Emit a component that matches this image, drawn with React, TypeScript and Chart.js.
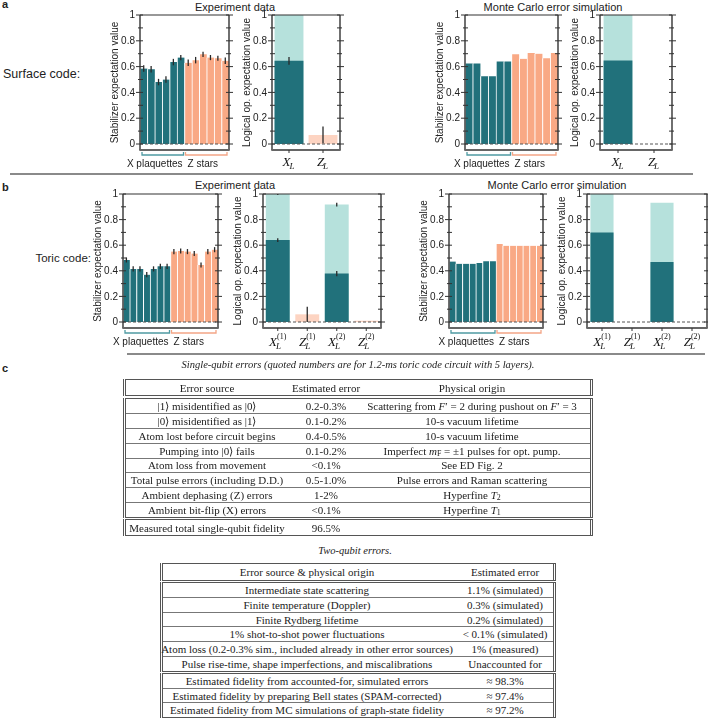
import React, { useEffect, useRef } from 'react';
import { Chart, registerables } from 'chart.js';
Chart.register(...registerables);

// ---------------- data ----------------
const surfaceXPlaquettes = ['X1', 'X2', 'X3', 'X4', 'X5', 'X6'];
const surfaceZStars = ['Z1', 'Z2', 'Z3', 'Z4', 'Z5', 'Z6'];
const toricXPlaquettes = ['X1', 'X2', 'X3', 'X4', 'X5', 'X6', 'X7'];
const toricZStars = ['Z1', 'Z2', 'Z3', 'Z4', 'Z5', 'Z6', 'Z7'];

const surfaceExpX = [0.585, 0.58, 0.48, 0.5, 0.635, 0.67];
const surfaceExpXErr = [0.025, 0.025, 0.025, 0.025, 0.025, 0.02];
const surfaceExpZ = [0.63, 0.65, 0.695, 0.67, 0.665, 0.645];
const surfaceExpZErr = [0.025, 0.025, 0.02, 0.02, 0.02, 0.025];
const surfaceMcX = [0.625, 0.625, 0.525, 0.525, 0.64, 0.64];
const surfaceMcZ = [0.695, 0.66, 0.705, 0.7, 0.665, 0.705];

const toricExpX = [0.485, 0.415, 0.415, 0.37, 0.415, 0.435, 0.435];
const toricExpXErr = [0.02, 0.02, 0.02, 0.02, 0.02, 0.02, 0.02];
const toricExpZ = [0.55, 0.555, 0.55, 0.535, 0.445, 0.55, 0.565];
const toricExpZErr = [0.02, 0.02, 0.02, 0.02, 0.02, 0.02, 0.02];
const toricMcX = [0.473, 0.455, 0.455, 0.455, 0.46, 0.475, 0.475];
const toricMcZ = [0.61, 0.595, 0.595, 0.595, 0.595, 0.595, 0.595];

const surfaceLogicalOps = ['X', 'Z'];
const surfaceLogicalIdx = ['', ''];
const toricLogicalOps = ['X', 'Z', 'X', 'Z'];
const toricLogicalIdx = ['(1)', '(1)', '(2)', '(2)'];

const surfaceExpLogicalRaw = [0.645, 0.0];
const surfaceExpLogicalRawErr = [0.03, 0];
const surfaceExpLogicalCorrected = [1.0, 0.07];
const surfaceExpLogicalCorrectedErr = [0, 0.065];
const surfaceMcLogicalRaw = [0.648, 0];
const surfaceMcLogicalCorrected = [1.0, 0];

const toricExpLogicalRaw = [0.64, 0.0, 0.378, 0.0];
const toricExpLogicalRawErr = [0.015, 0, 0.02, 0];
const toricExpLogicalCorrected = [1.0, 0.06, 0.917, 0.01];
const toricExpLogicalCorrectedErr = [0.008, 0.06, 0.015, 0];
const toricMcLogicalRaw = [0.7, 0, 0.468, 0];
const toricMcLogicalCorrected = [1.0, 0, 0.932, 0];

const yTickValues = [0, 0.2, 0.4, 0.6, 0.8, 1];
const yTickLabels = ['0', '0.2', '0.4', '0.6', '0.8', '1'];

const table1Header = ['Error source', 'Estimated error', 'Physical origin'];
const table2Header = ['Error source & physical origin', 'Estimated error'];

// ---------------- style ----------------
const TEAL = '#21717b';
const TEAL_LIGHT = '#b6e1dc';
const ORANGE = '#f9a985';
const ORANGE_LIGHT = '#fdd4c2';
const TEAL_LINE = '#4f9aa2';
const ORANGE_LINE = '#f3a586';
const SANS = '"Liberation Sans", Arial, Helvetica, sans-serif';
const SERIF = '"Liberation Serif", "Times New Roman", serif';

const PADL = 50, PADT = 10, PADR = 10, PADB = 26;

type StabSpec = {
  kind: 'stab'; L: number; R: number; T: number; Z: number;
  xLabels: string[]; zLabels: string[];
  x: number[]; z: number[]; xErr?: number[]; zErr?: number[];
};
type LogSpec = {
  kind: 'log'; L: number; R: number; T: number; Z: number;
  ops: string[]; idx: string[]; raw: number[]; rawErr?: number[];
  corr: number[]; corrErr?: number[]; barPct: number;
};
type Spec = StabSpec | LogSpec;

function line(ctx: CanvasRenderingContext2D, x1: number, y1: number, x2: number, y2: number) {
  ctx.beginPath();
  ctx.moveTo(x1, y1);
  ctx.lineTo(x2, y2);
  ctx.stroke();
}

function drawMath(ctx: CanvasRenderingContext2D, cx: number, y: number, base: string, sub: string, sup: string) {
  const fb = `italic 13px ${SERIF}`;
  const fs = `italic 9px ${SERIF}`;
  const fp = `8px ${SERIF}`;
  ctx.font = fb; const wb = ctx.measureText(base).width;
  ctx.font = fs; const ws = ctx.measureText(sub).width;
  ctx.font = fp; const wp = sup ? ctx.measureText(sup).width : 0;
  const total = wb + Math.max(ws, wp);
  const x0 = cx - total / 2;
  ctx.textAlign = 'left';
  ctx.textBaseline = 'alphabetic';
  ctx.fillStyle = '#111';
  ctx.font = fb; ctx.fillText(base, x0, y);
  ctx.font = fs; ctx.fillText(sub, x0 + wb - 1, y + 3);
  if (sup) { ctx.font = fp; ctx.fillText(sup, x0 + wb, y - 7); }
}

function makePlugin(spec: Spec) {
  return {
    id: 'decor',
    afterDatasetsDraw(chart: any) {
      const ctx: CanvasRenderingContext2D = chart.ctx;
      const ca = chart.chartArea;
      const ys = chart.scales.y;
      const L = ca.left, R = ca.right, T = ca.top, B = ca.bottom;
      const y0 = ys.getPixelForValue(0);
      ctx.save();
      // zero line
      ctx.setLineDash([3, 2]);
      ctx.strokeStyle = '#555';
      ctx.lineWidth = 1;
      line(ctx, L, y0, R, y0);
      ctx.setLineDash([]);
      // error bars
      const errSets: { ds: number; errs: number[] }[] = [];
      if (spec.kind === 'stab') {
        if (spec.xErr && spec.zErr) errSets.push({ ds: 0, errs: [...spec.xErr, ...spec.zErr] });
      } else {
        if (spec.corrErr) errSets.push({ ds: 0, errs: spec.corrErr });
        if (spec.rawErr) errSets.push({ ds: 1, errs: spec.rawErr });
      }
      ctx.strokeStyle = '#2a2a2a';
      ctx.lineWidth = 1.3;
      errSets.forEach(({ ds, errs }) => {
        const meta = chart.getDatasetMeta(ds);
        const data = chart.data.datasets[ds].data;
        meta.data.forEach((el: any, j: number) => {
          const e = errs[j];
          if (!e) return;
          const v = data[j];
          line(ctx, el.x, ys.getPixelForValue(v - e), el.x, ys.getPixelForValue(Math.min(v + e, 1.0)));
        });
      });
      // frame
      ctx.strokeStyle = '#333';
      ctx.lineWidth = 1.4;
      line(ctx, L, T, L, B);
      line(ctx, R, T, R, B);
      ctx.lineWidth = 1.2;
      line(ctx, L, T, R, T);
      ctx.strokeStyle = '#666';
      ctx.lineWidth = 2;
      line(ctx, L - 0.7, B, R + 0.7, B);
      // ticks
      ctx.strokeStyle = '#333';
      ctx.lineWidth = 1;
      for (let i = 0; i <= 10; i++) {
        const y = ys.getPixelForValue(i / 10);
        const major = i % 2 === 0;
        line(ctx, L - (major ? 4 : 2), y, L + 3, y);
        line(ctx, R - 3, y, R + (major ? 4 : 2), y);
      }
      // tick labels
      ctx.fillStyle = '#222';
      ctx.font = `10px ${SANS}`;
      ctx.textAlign = 'right';
      ctx.textBaseline = 'middle';
      yTickValues.forEach((v, i) => {
        ctx.fillText(yTickLabels[i], L - 5, ys.getPixelForValue(v) + 0.5);
      });
      // y title
      ctx.save();
      ctx.translate(L - 25, (T + B) / 2);
      ctx.rotate(-Math.PI / 2);
      ctx.textAlign = 'center';
      ctx.textBaseline = 'middle';
      ctx.font = `10px ${SANS}`;
      ctx.fillText(spec.kind === 'stab' ? 'Stabilizer expectation value' : 'Logical op. expectation value', 0, 0);
      ctx.restore();

      const meta0 = chart.getDatasetMeta(0);
      if (spec.kind === 'stab') {
        const els = meta0.data;
        const nX = spec.x.length;
        const w = els[0].width;
        const first = els[0].x - w / 2;
        const last = els[els.length - 1].x + w / 2;
        const mid = (els[nX - 1].x + els[nX].x) / 2;
        const by = B + 5;
        ctx.lineWidth = 1.3;
        ctx.strokeStyle = TEAL_LINE;
        ctx.beginPath();
        ctx.moveTo(first + 2, by - 3); ctx.lineTo(first + 2, by); ctx.lineTo(mid - 1, by); ctx.lineTo(mid - 1, by - 3);
        ctx.stroke();
        ctx.strokeStyle = ORANGE_LINE;
        ctx.beginPath();
        ctx.moveTo(mid + 1, by - 3); ctx.lineTo(mid + 1, by); ctx.lineTo(last - 2, by); ctx.lineTo(last - 2, by - 3);
        ctx.stroke();
        ctx.fillStyle = '#222';
        ctx.font = `10px ${SANS}`;
        ctx.textBaseline = 'middle';
        ctx.textAlign = 'right';
        ctx.fillText('X plaquettes', mid - 2, B + 14);
        ctx.textAlign = 'left';
        ctx.fillText('Z stars', mid + 3, B + 14);
      } else {
        const els = meta0.data;
        ctx.strokeStyle = '#333';
        ctx.lineWidth = 1;
        els.forEach((el: any, j: number) => {
          line(ctx, el.x, B, el.x, B + 3);
          drawMath(ctx, el.x, B + (spec.idx[j] ? 18 : 16), spec.ops[j], 'L', spec.idx[j]);
        });
      }
      ctx.restore();
    },
  };
}

function buildConfig(spec: Spec): any {
  const ymin = -6 / (spec.Z - spec.T);
  const scales = {
    x: { type: 'category', display: false, offset: true },
    y: { type: 'linear', display: false, min: ymin, max: 1 },
  };
  let data: any;
  if (spec.kind === 'stab') {
    data = {
      labels: [...spec.xLabels, ...spec.zLabels],
      datasets: [{
        data: [...spec.x, ...spec.z],
        backgroundColor: [...spec.x.map(() => TEAL), ...spec.z.map(() => ORANGE)],
        borderColor: '#ffffff',
        borderWidth: { left: 1, right: 0, top: 0, bottom: 0 },
        borderSkipped: false,
        barPercentage: 1,
        categoryPercentage: 1,
      }],
    };
  } else {
    const labels = spec.ops.map((o, i) => `${o}_L${spec.idx[i]}`);
    data = {
      labels,
      datasets: [
        {
          data: spec.corr,
          backgroundColor: spec.ops.map((o) => (o === 'X' ? TEAL_LIGHT : ORANGE_LIGHT)),
          borderWidth: 0,
          barPercentage: spec.barPct,
          categoryPercentage: 1,
          grouped: false,
          order: 2,
        },
        {
          data: spec.raw,
          backgroundColor: spec.ops.map((o) => (o === 'X' ? TEAL : ORANGE)),
          borderWidth: 0,
          barPercentage: spec.barPct,
          categoryPercentage: 1,
          grouped: false,
          order: 1,
        },
      ],
    };
  }
  return {
    type: 'bar',
    data,
    options: {
      responsive: false,
      animation: false,
      devicePixelRatio: 1,
      layout: { padding: { left: PADL, top: PADT, right: PADR, bottom: PADB } },
      plugins: { legend: { display: false }, tooltip: { enabled: false }, title: { display: false } },
      scales,
    },
    plugins: [makePlugin(spec)],
  };
}

function Plot({ spec }: { spec: Spec }) {
  const ref = useRef<HTMLCanvasElement>(null);
  useEffect(() => {
    const chart = new Chart(ref.current as HTMLCanvasElement, buildConfig(spec));
    return () => chart.destroy();
  }, []);
  const B = spec.Z + 6;
  const left = spec.L - PADL;
  const top = spec.T - PADT;
  const w = spec.R - spec.L + PADL + PADR;
  const h = B - spec.T + PADT + PADB;
  return (
    <div style={{ position: 'absolute', left, top, width: w, height: h }}>
      <canvas ref={ref} width={w} height={h} style={{ display: 'block', width: w, height: h }} />
    </div>
  );
}

const specs: Spec[] = [
  { kind: 'stab', L: 140, R: 229, T: 15, Z: 144, xLabels: surfaceXPlaquettes, zLabels: surfaceZStars, x: surfaceExpX, z: surfaceExpZ, xErr: surfaceExpXErr, zErr: surfaceExpZErr },
  { kind: 'log', L: 272, R: 340, T: 15, Z: 144, ops: surfaceLogicalOps, idx: surfaceLogicalIdx, raw: surfaceExpLogicalRaw, rawErr: surfaceExpLogicalRawErr, corr: surfaceExpLogicalCorrected, corrErr: surfaceExpLogicalCorrectedErr, barPct: 0.85 },
  { kind: 'stab', L: 465, R: 558, T: 15, Z: 144, xLabels: surfaceXPlaquettes, zLabels: surfaceZStars, x: surfaceMcX, z: surfaceMcZ },
  { kind: 'log', L: 600, R: 672, T: 15, Z: 144, ops: surfaceLogicalOps, idx: surfaceLogicalIdx, raw: surfaceMcLogicalRaw, corr: surfaceMcLogicalCorrected, barPct: 0.8 },
  { kind: 'stab', L: 123, R: 218, T: 194, Z: 322, xLabels: toricXPlaquettes, zLabels: toricZStars, x: toricExpX, z: toricExpZ, xErr: toricExpXErr, zErr: toricExpZErr },
  { kind: 'log', L: 263, R: 381, T: 194, Z: 322, ops: toricLogicalOps, idx: toricLogicalIdx, raw: toricExpLogicalRaw, rawErr: toricExpLogicalRawErr, corr: toricExpLogicalCorrected, corrErr: toricExpLogicalCorrectedErr, barPct: 0.81 },
  { kind: 'stab', L: 449, R: 543, T: 194, Z: 322, xLabels: toricXPlaquettes, zLabels: toricZStars, x: toricMcX, z: toricMcZ },
  { kind: 'log', L: 587, R: 707, T: 194, Z: 322, ops: toricLogicalOps, idx: toricLogicalIdx, raw: toricMcLogicalRaw, corr: toricMcLogicalCorrected, barPct: 0.77 },
];

// ---------------- tables ----------------
const sub = (t: string) => <sub style={{ fontSize: '0.72em', verticalAlign: '-0.25em', lineHeight: 0 }}>{t}</sub>;

const table1Rows: React.ReactNode[][] = [
  ['|1⟩ misidentified as |0⟩', '0.2-0.3%', <>Scattering from <i>F</i>′ = 2 during pushout on <i>F</i>′ = 3</>],
  ['|0⟩ misidentified as |1⟩', '0.1-0.2%', '10-s vacuum lifetime'],
  ['Atom lost before circuit begins', '0.4-0.5%', '10-s vacuum lifetime'],
  ['Pumping into |0⟩ fails', '0.1-0.2%', <>Imperfect <i>m</i>{sub('F')} = ±1 pulses for opt. pump.</>],
  ['Atom loss from movement', '<0.1%', 'See ED Fig. 2'],
  ['Total pulse errors (including D.D.)', '0.5-1.0%', 'Pulse errors and Raman scattering'],
  ['Ambient dephasing (Z) errors', '1-2%', <>Hyperfine <i>T</i>{sub('2')}</>],
  ['Ambient bit-flip (X) errors', '<0.1%', <>Hyperfine <i>T</i>{sub('1')}</>],
];
const table1Total: React.ReactNode[][] = [['Measured total single-qubit fidelity', '96.5%', '']];

const table2Rows: React.ReactNode[][] = [
  ['Intermediate state scattering', '1.1% (simulated)'],
  ['Finite temperature (Doppler)', '0.3% (simulated)'],
  ['Finite Rydberg lifetime', '0.2% (simulated)'],
  ['1% shot-to-shot power fluctuations', '< 0.1% (simulated)'],
  ['Atom loss (0.2-0.3% sim., included already in other error sources)', '1% (measured)'],
  ['Pulse rise-time, shape imperfections, and miscalibrations', 'Unaccounted for'],
];
const table2Totals: React.ReactNode[][] = [
  ['Estimated fidelity from accounted-for, simulated errors', '≈ 98.3%'],
  ['Estimated fidelity by preparing Bell states (SPAM-corrected)', '≈ 97.4%'],
  ['Estimated fidelity from MC simulations of graph-state fidelity', '≈ 97.2%'],
];

const TABLE_FONT = 11;

function Box({ left, top, width, height, rows, centers }: { left: number; top: number; width: number; height: number; rows: React.ReactNode[][]; centers: number[] }) {
  return (
    <div style={{
      position: 'absolute', left, top, width, height, boxSizing: 'border-box',
      borderTop: '1px solid #555', borderBottom: '1px solid #555',
      borderLeft: '3px double #555', borderRight: '3px double #555',
      display: 'flex', flexDirection: 'column',
    }}>
      {rows.map((r, i) => (
        <div key={i} style={{ flex: 1, position: 'relative', borderBottom: i < rows.length - 1 ? '1px solid #777' : 'none' }}>
          {r.map((c, j) => (
            <span key={j} style={{
              position: 'absolute', left: centers[j] - 3, top: '50%', transform: 'translate(-50%, -50%)',
              whiteSpace: 'nowrap', fontFamily: SERIF, fontSize: TABLE_FONT, color: '#222', lineHeight: 1,
            }}>{c}</span>
          ))}
        </div>
      ))}
    </div>
  );
}

function Txt({ x, y, children, style, align }: { x: number; y: number; children: React.ReactNode; style?: React.CSSProperties; align?: 'left' | 'center' | 'right' }) {
  const tx = align === 'left' ? '0' : align === 'right' ? '-100%' : '-50%';
  return (
    <div style={{ position: 'absolute', left: x, top: y, transform: `translate(${tx}, -50%)`, whiteSpace: 'nowrap', lineHeight: 1, ...style }}>
      {children}
    </div>
  );
}

export default function App() {
  return (
    <div style={{ position: 'absolute', left: 0, top: 0, width: 708, height: 718, overflow: 'hidden', background: '#fff', fontFamily: SANS, color: '#222' }}>
      {/* panel letters */}
      <Txt x={2} y={4} align="left" style={{ fontWeight: 'bold', fontSize: 11 }}>a</Txt>
      <Txt x={2} y={187} align="left" style={{ fontWeight: 'bold', fontSize: 11 }}>b</Txt>
      <Txt x={2} y={368} align="left" style={{ fontWeight: 'bold', fontSize: 11 }}>c</Txt>

      <Txt x={3} y={74} align="left" style={{ fontSize: 12.5 }}>Surface code:</Txt>
      <Txt x={91} y={259} align="right" style={{ fontSize: 11.5 }}>Toric code:</Txt>

      <Txt x={235} y={7} style={{ fontSize: 11 }}>Experiment data</Txt>
      <Txt x={553} y={7} style={{ fontSize: 11 }}>Monte Carlo error simulation</Txt>
      <Txt x={235} y={185} style={{ fontSize: 11 }}>Experiment data</Txt>
      <Txt x={557} y={185} style={{ fontSize: 11 }}>Monte Carlo error simulation</Txt>

      {specs.map((s, i) => <Plot key={i} spec={s} />)}

      {/* separators */}
      <div style={{ position: 'absolute', left: 10, top: 173, width: 683, height: 1.5, background: '#8a8a8a' }} />
      <div style={{ position: 'absolute', left: 127, top: 353, width: 578, height: 1.5, background: '#8a8a8a' }} />

      <Txt x={358} y={365} style={{ fontFamily: SERIF, fontStyle: 'italic', fontSize: 10.5 }}>
        Single-qubit errors (quoted numbers are for 1.2-ms toric code circuit with 5 layers).
      </Txt>

      <Box left={123} top={379} width={470} height={17} rows={[table1Header]} centers={[84, 203, 349]} />
      <Box left={123} top={398} width={470} height={120} rows={table1Rows} centers={[84, 203, 349]} />
      <Box left={123} top={519} width={470} height={17} rows={table1Total} centers={[84, 203, 349]} />

      <Txt x={355} y={551} style={{ fontFamily: SERIF, fontStyle: 'italic', fontSize: 10.5 }}>Two-qubit errors.</Txt>

      <Box left={160} top={563} width={396} height={18} rows={[table2Header]} centers={[147, 345]} />
      <Box left={160} top={582} width={396} height={90} rows={table2Rows} centers={[147, 345]} />
      <Box left={160} top={673} width={396} height={45} rows={table2Totals} centers={[147, 345]} />
    </div>
  );
}
